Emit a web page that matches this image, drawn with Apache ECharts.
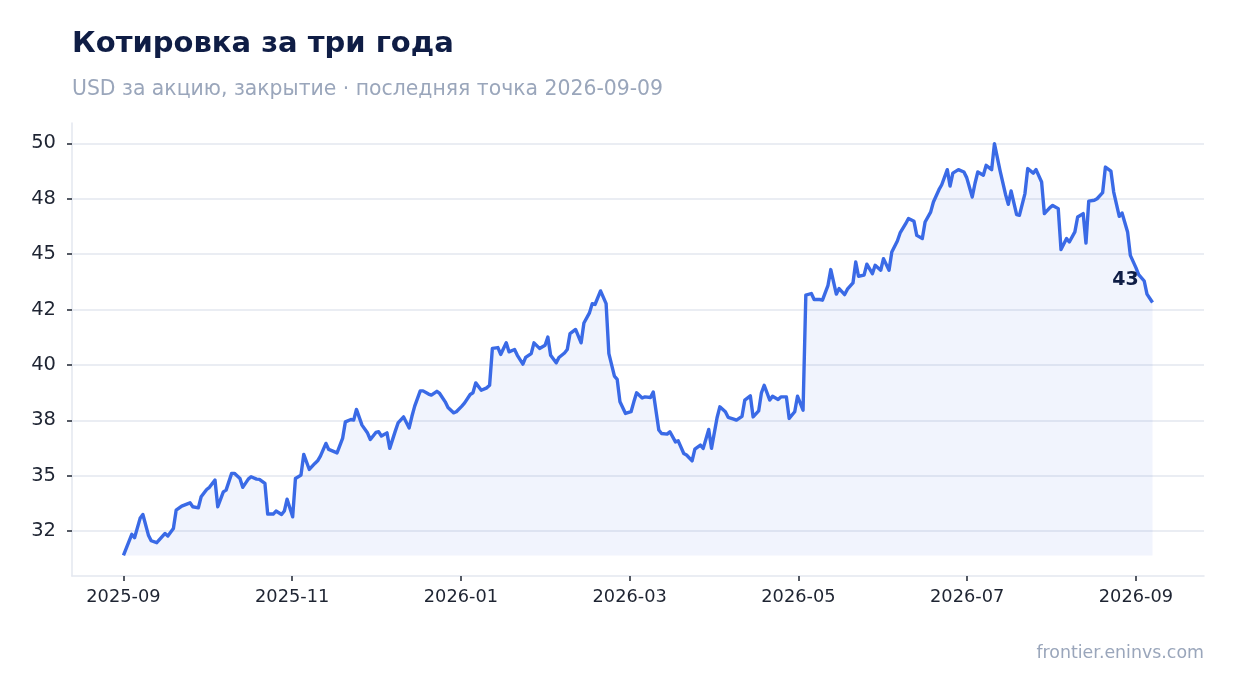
<!DOCTYPE html>
<html>
<head>
<meta charset="utf-8">
<script src="https://cdn.jsdelivr.net/npm/echarts@6/dist/echarts.min.js"></script>
<style>
html,body{margin:0;padding:0;background:#ffffff;}
#chart{width:1234px;height:693px;}
</style>
</head>
<body>
<div id="chart"></div>
<script>
const dates = [
"2025-09-01","2025-09-04","2025-09-05","2025-09-07","2025-09-08","2025-09-10","2025-09-11","2025-09-13","2025-09-16","2025-09-17",
"2025-09-19","2025-09-20","2025-09-22","2025-09-25","2025-09-26","2025-09-28","2025-09-29","2025-10-01","2025-10-02","2025-10-04",
"2025-10-05","2025-10-07","2025-10-08","2025-10-10","2025-10-11","2025-10-13","2025-10-14","2025-10-16","2025-10-17","2025-10-19",
"2025-10-20","2025-10-22","2025-10-23","2025-10-25","2025-10-26","2025-10-28","2025-10-29","2025-10-30","2025-11-01","2025-11-02",
"2025-11-04","2025-11-05","2025-11-07","2025-11-09","2025-11-10","2025-11-11","2025-11-13","2025-11-14","2025-11-17","2025-11-19",
"2025-11-20","2025-11-22","2025-11-23","2025-11-24","2025-11-26","2025-11-28","2025-11-29","2025-12-01","2025-12-02","2025-12-03",
"2025-12-05","2025-12-06","2025-12-08","2025-12-09","2025-12-11","2025-12-13","2025-12-14","2025-12-15","2025-12-17","2025-12-18",
"2025-12-20","2025-12-21","2025-12-23","2025-12-24","2025-12-26","2025-12-27","2025-12-29","2025-12-30","2026-01-01","2026-01-02",
"2026-01-04","2026-01-05","2026-01-06","2026-01-08","2026-01-10","2026-01-11","2026-01-12","2026-01-14","2026-01-15","2026-01-17",
"2026-01-18","2026-01-20","2026-01-21","2026-01-23","2026-01-24","2026-01-26","2026-01-27","2026-01-29","2026-01-31","2026-02-01",
"2026-02-02","2026-02-04","2026-02-05","2026-02-07","2026-02-08","2026-02-09","2026-02-11","2026-02-13","2026-02-14","2026-02-16",
"2026-02-17","2026-02-18","2026-02-20","2026-02-22","2026-02-23","2026-02-25","2026-02-26","2026-02-27","2026-03-01","2026-03-03",
"2026-03-04","2026-03-05","2026-03-07","2026-03-08","2026-03-10","2026-03-11","2026-03-13","2026-03-14","2026-03-16","2026-03-17",
"2026-03-19","2026-03-20","2026-03-22","2026-03-23","2026-03-25","2026-03-26","2026-03-28","2026-03-29","2026-03-31","2026-04-01",
"2026-04-03","2026-04-04","2026-04-06","2026-04-07","2026-04-09","2026-04-10","2026-04-12","2026-04-13","2026-04-15","2026-04-16",
"2026-04-18","2026-04-19","2026-04-20","2026-04-22","2026-04-23","2026-04-25","2026-04-26","2026-04-28","2026-04-29","2026-05-01",
"2026-05-02","2026-05-04","2026-05-05","2026-05-07","2026-05-08","2026-05-10","2026-05-11","2026-05-13","2026-05-14","2026-05-16",
"2026-05-17","2026-05-19","2026-05-20","2026-05-22","2026-05-23","2026-05-24","2026-05-26","2026-05-27","2026-05-29","2026-05-30",
"2026-06-01","2026-06-02","2026-06-04","2026-06-05","2026-06-07","2026-06-08","2026-06-10","2026-06-11","2026-06-13","2026-06-14",
"2026-06-16","2026-06-17","2026-06-19","2026-06-20","2026-06-22","2026-06-23","2026-06-25","2026-06-26","2026-06-27","2026-06-29",
"2026-07-01","2026-07-02","2026-07-04","2026-07-05","2026-07-06","2026-07-08","2026-07-09","2026-07-11","2026-07-12","2026-07-14",
"2026-07-16","2026-07-17","2026-07-18","2026-07-20","2026-07-21","2026-07-23","2026-07-24","2026-07-26","2026-07-27","2026-07-29",
"2026-07-30","2026-08-01","2026-08-02","2026-08-04","2026-08-05","2026-08-07","2026-08-08","2026-08-10","2026-08-11","2026-08-13",
"2026-08-14","2026-08-15","2026-08-17","2026-08-18","2026-08-20","2026-08-21","2026-08-23","2026-08-24","2026-08-26","2026-08-27",
"2026-08-29","2026-08-30","2026-09-01","2026-09-02","2026-09-04","2026-09-05","2026-09-07"
];
const prices = [
30.87,31.85,31.69,32.59,32.77,31.81,31.55,31.46,31.89,31.77,
32.12,32.97,33.16,33.31,33.13,33.08,33.59,33.93,34.03,34.37,
33.13,33.82,33.90,34.68,34.68,34.44,34.03,34.41,34.52,34.41,
34.40,34.21,32.79,32.79,32.93,32.77,32.93,33.48,32.66,34.44,
34.60,35.56,34.86,35.14,35.26,35.48,36.07,35.79,35.63,36.30,
37.07,37.18,37.15,37.65,36.92,36.55,36.25,36.58,36.61,36.41,
36.56,35.84,36.64,37.02,37.30,36.79,37.33,37.80,38.51,38.51,
38.36,38.31,38.49,38.39,38.00,37.74,37.49,37.54,37.80,37.95,
38.34,38.42,38.88,38.54,38.65,38.77,40.48,40.52,40.20,40.74,
40.32,40.43,40.16,39.75,40.06,40.24,40.74,40.48,40.63,41.01,
40.16,39.81,40.06,40.27,40.43,41.17,41.36,40.74,41.66,42.13,
42.56,42.52,43.15,42.56,40.24,39.19,39.04,38.00,37.46,37.54,
38.00,38.42,38.18,38.23,38.20,38.46,36.69,36.53,36.50,36.61,
36.14,36.19,35.60,35.53,35.26,35.80,35.99,35.84,36.72,35.84,
37.26,37.77,37.54,37.28,37.20,37.15,37.33,38.08,38.28,37.30,
37.58,38.42,38.77,38.08,38.26,38.11,38.23,38.23,37.23,37.54,
38.26,37.61,42.95,43.03,42.75,42.75,42.72,43.41,44.14,43.00,
43.26,42.98,43.23,43.52,44.49,43.83,43.88,44.39,43.95,44.34,
44.11,44.65,44.11,44.96,45.47,45.84,46.27,46.51,46.38,45.73,
45.58,46.35,46.81,47.28,47.85,48.08,48.78,48.02,48.62,48.78,
48.67,48.41,47.51,48.15,48.67,48.52,48.98,48.78,49.99,48.75,
47.63,47.17,47.79,46.69,46.66,47.67,48.83,48.62,48.78,48.21,
46.74,47.02,47.12,46.97,45.07,45.58,45.42,45.89,46.58,46.74,
45.37,47.32,47.36,47.43,47.71,48.90,48.71,47.74,46.61,46.77,
45.89,44.80,44.23,43.91,43.61,43.00,42.61
];
const yTickValues = [32, 34.571, 37.143, 39.714, 42.286, 44.857, 47.429, 50];
const yTickLabels = ["32","35","38","40","42","45","48","50"];
const xTickDates = ["2025-09-01T00:00","2025-10-31T20:00","2025-12-31T16:00","2026-03-02T12:00","2026-05-02T08:00","2026-07-02T04:00","2026-09-01T00:00"];
const xTickLabels = ["2025-09","2025-11","2026-01","2026-03","2026-05","2026-07","2026-09"];

const titleText = "Котировка за три года";
const subtitleText = "USD за акцию, закрытие · последняя точка 2026-09-09";
const footerText = "frontier.eninvs.com";

const DAY = 86400000;
const ts = s => new Date((s.length === 10 ? s + "T00:00" : s) + ":00Z").getTime();
const seriesData = dates.map((d, i) => [ts(d), prices[i]]);
const t0 = ts(dates[0]), t1 = ts(dates[dates.length - 1]);
const tPad = (t1 - t0) * 0.05;
const pMin = Math.min(...prices), pMax = Math.max(...prices);
const pPad = (pMax - pMin) * 0.05;
const xTickTs = xTickDates.map(ts);

const FONT = "DejaVu Sans";
const chart = echarts.init(document.getElementById("chart"), null, {renderer: "canvas"});
chart.setOption({
  animation: false,
  backgroundColor: "#ffffff",
  title: [
    {text: titleText, left: 72, top: 30, padding: 0,
     textStyle: {fontFamily: FONT, fontSize: 29, fontWeight: "bold", color: "#0f1d45"}},
    {text: subtitleText, left: 72, top: 80, padding: 0,
     textStyle: {fontFamily: FONT, fontSize: 20.4, fontWeight: "normal", color: "#9aa6bb"}},
    {text: footerText, right: 30, top: 645, padding: 0,
     textStyle: {fontFamily: FONT, fontSize: 17.4, fontWeight: "normal", color: "#9aa6bb"}}
  ],
  grid: {left: 72, right: 30, top: 123, bottom: 117, containLabel: false},
  xAxis: {
    type: "value",
    min: t0 - tPad,
    max: t1 + tPad,
    axisLine: {show: true, lineStyle: {color: "#e3e7ef", width: 1.5}},
    axisTick: {show: true, length: 5, lineStyle: {color: "#1e2432", width: 1.5}, customValues: xTickTs},
    axisLabel: {
      show: true, customValues: xTickTs, margin: 12,
      fontFamily: FONT, fontSize: 17.8, color: "#1e2432",
      formatter: v => {
        const i = xTickTs.findIndex(t => Math.abs(t - v) < DAY);
        return i >= 0 ? xTickLabels[i] : "";
      }
    },
    splitLine: {show: false}
  },
  yAxis: {
    type: "value",
    min: pMin - pPad,
    max: pMax + pPad,
    axisLine: {show: true, lineStyle: {color: "#e3e7ef", width: 1.5}},
    axisTick: {show: true, length: 5, lineStyle: {color: "#1e2432", width: 1.5}, customValues: yTickValues},
    axisLabel: {
      show: true, customValues: yTickValues, margin: 16,
      fontFamily: FONT, fontSize: 19.5, color: "#1e2432",
      formatter: v => {
        let best = 0;
        yTickValues.forEach((t, i) => { if (Math.abs(t - v) < Math.abs(yTickValues[best] - v)) best = i; });
        return yTickLabels[best];
      }
    },
    splitLine: {show: true, lineStyle: {color: "#e3e7ef", width: 1.5}}
  },
  series: [{
    type: "line",
    data: seriesData,
    showSymbol: false,
    symbol: "none",
    lineStyle: {color: "#3a6ae6", width: 3.4, join: "round"},
    itemStyle: {color: "#3a6ae6"},
    areaStyle: {color: "rgba(58,106,230,0.1)", origin: pMin},
    markPoint: {
      symbol: "circle",
      symbolSize: 1,
      itemStyle: {color: "rgba(0,0,0,0)"},
      label: {
        show: true, position: "inside", offset: [-27, -22],
        fontFamily: FONT, fontSize: 19, fontWeight: "bold", color: "#0f1d45",
        formatter: p => String(Math.round(p.value))
      },
      data: [{coord: [t1, prices[prices.length - 1]], value: prices[prices.length - 1]}]
    }
  }]
});
</script>
</body>
</html>
